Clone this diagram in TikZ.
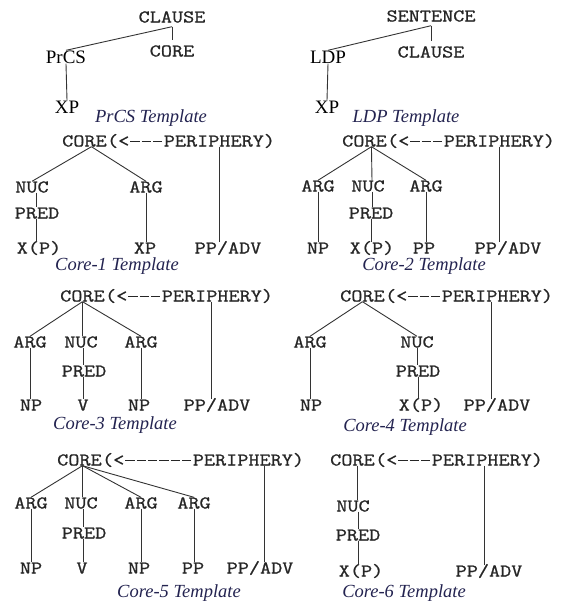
\documentclass[tikz,border=0pt]{standalone}
\usepackage{fontspec}
\setmainfont{Liberation Serif}
\newfontfamily\catfont{Latin Modern Mono}[FakeStretch=1.2,FakeBold=1]
\usetikzlibrary{positioning}
\definecolor{capnavy}{RGB}{35,35,80}
\newcommand\ldash{\makebox[11.34pt]{\rule[5pt]{9.5pt}{0.9pt}}}
\tikzset{
  cat/.style={font=\catfont\fontsize{18}{18}\selectfont, text=black!85, inner sep=0pt, text height=11pt, text depth=0pt},
  word/.style={font=\fontsize{19}{19}\selectfont, inner sep=0pt, text height=13pt, text depth=0pt},
  tname/.style={font=\itshape\fontsize{18.5}{18.5}\selectfont, text=capnavy, inner sep=0pt},
  branch/.style={draw=black!80, line width=0.9pt}
}
\begin{document}
\begin{tikzpicture}[x=1pt, y=-1pt, node distance=0pt]
  \useasboundingbox (0,0) rectangle (567,608);
  % PrCS template
  \node (clauseA) [cat] at (172,17) {CLAUSE};
  \node (coreA) [cat] at (172,51) {CORE};
  \node (prcs) [word] at (66,57) {PrCS};
  \node (xpA) [word] at (67,107) {XP};
  \node (tA) [tname] at (151,118) {PrCS Template};
  \draw[branch] ([yshift=-4pt]clauseA.south) -- (prcs.north);
  \draw[branch] ([yshift=-4pt]clauseA.south) -- ([yshift=5pt]coreA.north);
  \draw[branch] (prcs.south) -- (xpA.north);
  % LDP template
  \node (sentB) [cat] at (431,16) {SENTENCE};
  \node (clauseB) [cat] at (431,52) {CLAUSE};
  \node (ldp) [word] at (328,57) {LDP};
  \node (xpB) [word] at (327,107) {XP};
  \node (tB) [tname] at (406,118) {LDP Template};
  \draw[branch] ([yshift=-4pt]sentB.south) -- (ldp.north);
  \draw[branch] ([yshift=-4pt]sentB.south) -- ([yshift=5pt]clauseB.north);
  \draw[branch] (ldp.south) -- (xpB.north);
  % Core-1
  \node (c1) [cat, anchor=west] at (62,141) {CORE};
  \node (d1) [cat, right=of c1] {(<\ldash\ldash\ldash};
  \node (p1) [cat, right=of d1] {PERIPHERY)};
  \node (nuc1) [cat] at (32,187) {NUC};
  \node (pred1) [cat] at (37,213) {PRED};
  \node (xp1a) [cat] at (39,248) {X(P)};
  \node (arg1) [cat] at (146,187) {ARG};
  \node (xp1b) [cat] at (145,248) {XP};
  \node (adv1) [cat] at (228,248) {PP/ADV};
  \node (t1) [tname] at (117,266) {Core-1 Template};
  \draw[branch] ([xshift=7pt]c1.south) -- (nuc1.north);
  \draw[branch] ([xshift=7pt]c1.south) -- (arg1.north);
  \draw[branch] ([xshift=4pt]nuc1.south) -- ([xshift=4pt]nuc1.south |- pred1.north);
  \draw[branch] ([xshift=-1pt]pred1.south) -- ([xshift=-1pt]pred1.south |- xp1a.north);
  \draw[branch] (arg1.south) -- (arg1.south |- xp1b.north);
  \draw[branch] (p1.south) -- (p1.south |- adv1.north);
  % Core-2
  \node (c2) [cat, anchor=west] at (342,141) {CORE};
  \node (d2) [cat, right=of c2] {(<\ldash\ldash\ldash};
  \node (p2) [cat, right=of d2] {PERIPHERY)};
  \node (argL2) [cat] at (318,186) {ARG};
  \node (nuc2) [cat] at (368,186) {NUC};
  \node (argR2) [cat] at (426,186) {ARG};
  \node (pred2) [cat] at (371,213) {PRED};
  \node (np2) [cat] at (318,248) {NP};
  \node (xp2) [cat] at (372,248) {X(P)};
  \node (pp2) [cat] at (424,248) {PP};
  \node (adv2) [cat] at (508,248) {PP/ADV};
  \node (t2) [tname] at (424,266) {Core-2 Template};
  \draw[branch] ([xshift=7pt]c2.south) -- (argL2.north);
  \draw[branch] ([xshift=7pt]c2.south) -- ([xshift=4pt]nuc2.north);
  \draw[branch] ([xshift=7pt]c2.south) -- (argR2.north);
  \draw[branch] (argL2.south) -- (argL2.south |- np2.north);
  \draw[branch] ([xshift=4pt]nuc2.south) -- ([xshift=4pt]nuc2.south |- pred2.north);
  \draw[branch] (pred2.south) -- (pred2.south |- xp2.north);
  \draw[branch] (argR2.south) -- (argR2.south |- pp2.north);
  \draw[branch] (p2.south) -- (p2.south |- adv2.north);
  % Core-3
  \node (c3) [cat, anchor=west] at (60,296) {CORE};
  \node (d3) [cat, right=of c3] {(<\ldash\ldash\ldash};
  \node (p3) [cat, right=of d3] {PERIPHERY)};
  \node (argL3) [cat] at (30,342) {ARG};
  \node (nuc3) [cat] at (81,342) {NUC};
  \node (argR3) [cat] at (141,342) {ARG};
  \node (pred3) [cat] at (84,371) {PRED};
  \node (npL3) [cat] at (31,405) {NP};
  \node (v3) [cat] at (83,405) {V};
  \node (npR3) [cat] at (139,405) {NP};
  \node (adv3) [cat] at (217,405) {PP/ADV};
  \node (t3) [tname] at (115,425) {Core-3 Template};
  \draw[branch] (c3.south) -- (argL3.north);
  \draw[branch] (c3.south) -- (c3.south |- nuc3.north);
  \draw[branch] (c3.south) -- (argR3.north);
  \draw[branch] (argL3.south) -- (argL3.south |- npL3.north);
  \draw[branch] ([xshift=2pt]nuc3.south) -- ([xshift=2pt]nuc3.south |- pred3.north);
  \draw[branch] ([xshift=-1pt]pred3.south) -- ([xshift=-1pt]pred3.south |- v3.north);
  \draw[branch] (argR3.south) -- (argR3.south |- npR3.north);
  \draw[branch] ([xshift=-6pt]p3.south) -- ([xshift=-6pt]p3.south |- adv3.north);
  % Core-4
  \node (c4) [cat, anchor=west] at (340,296) {CORE};
  \node (d4) [cat, right=of c4] {(<\ldash\ldash\ldash};
  \node (p4) [cat, right=of d4] {PERIPHERY)};
  \node (arg4) [cat] at (310,342) {ARG};
  \node (nuc4) [cat] at (417,342) {NUC};
  \node (pred4) [cat] at (418,371) {PRED};
  \node (np4) [cat] at (311,405) {NP};
  \node (xp4) [cat] at (421,405) {X(P)};
  \node (adv4) [cat] at (497,405) {PP/ADV};
  \node (t4) [tname] at (405,427) {Core-4 Template};
  \draw[branch] (c4.south) -- (arg4.north);
  \draw[branch] (c4.south) -- (nuc4.north);
  \draw[branch] (arg4.south) -- (arg4.south |- np4.north);
  \draw[branch] (nuc4.south) -- (nuc4.south |- pred4.north);
  \draw[branch] (pred4.south) -- (pred4.south |- xp4.north);
  \draw[branch] ([xshift=-6pt]p4.south) -- ([xshift=-6pt]p4.south |- adv4.north);
  % Core-5
  \node (c5) [cat, anchor=west] at (57,460) {CORE};
  \node (d5) [cat, right=of c5] {(<\ldash\ldash\ldash\ldash\ldash\ldash};
  \node (p5) [cat, right=of d5] {PERIPHERY)};
  \node (argA5) [cat] at (31,503) {ARG};
  \node (nuc5) [cat] at (81,503) {NUC};
  \node (argB5) [cat] at (141,503) {ARG};
  \node (argC5) [cat] at (194,503) {ARG};
  \node (pred5) [cat] at (84,533) {PRED};
  \node (npA5) [cat] at (31,568) {NP};
  \node (v5) [cat] at (82,568) {V};
  \node (npB5) [cat] at (139,568) {NP};
  \node (pp5) [cat] at (193,568) {PP};
  \node (adv5) [cat] at (260,568) {PP/ADV};
  \node (t5) [tname] at (179,593) {Core-5 Template};
  \draw[branch] ([xshift=3pt]c5.south) -- (argA5.north);
  \draw[branch] ([xshift=3pt]c5.south) -- ([xshift=3pt]c5.south |- nuc5.north);
  \draw[branch] ([xshift=3pt]c5.south) -- (argB5.north);
  \draw[branch] ([xshift=3pt]c5.south) -- (argC5.north);
  \draw[branch] (argA5.south) -- (argA5.south |- npA5.north);
  \draw[branch] ([xshift=2pt]nuc5.south) -- ([xshift=2pt]nuc5.south |- pred5.north);
  \draw[branch] ([xshift=-1pt]pred5.south) -- ([xshift=-1pt]pred5.south |- v5.north);
  \draw[branch] (argB5.south) -- (argB5.south |- npB5.north);
  \draw[branch] (argC5.south) -- (argC5.south |- pp5.north);
  \draw[branch] ([xshift=16pt]p5.south) -- ([xshift=16pt]p5.south |- adv5.north);
  % Core-6
  \node (c6) [cat, anchor=west] at (330,460) {CORE};
  \node (d6) [cat, right=of c6] {(<\ldash\ldash\ldash};
  \node (p6) [cat, right=of d6] {PERIPHERY)};
  \node (nuc6) [cat] at (353,506) {NUC};
  \node (pred6) [cat] at (358,535) {PRED};
  \node (xp6) [cat] at (361,571) {X(P)};
  \node (adv6) [cat] at (489,571) {PP/ADV};
  \node (t6) [tname] at (404,593) {Core-6 Template};
  \draw[branch] ([xshift=5pt]c6.south) -- ([xshift=5pt]c6.south |- nuc6.north);
  \draw[branch] ([xshift=5pt]nuc6.south) -- ([xshift=5pt]nuc6.south |- pred6.north);
  \draw[branch] (pred6.south) -- (pred6.south |- xp6.north);
  \draw[branch] ([xshift=-3pt]p6.south) -- ([xshift=-3pt]p6.south |- adv6.north);
\end{tikzpicture}
\end{document}
